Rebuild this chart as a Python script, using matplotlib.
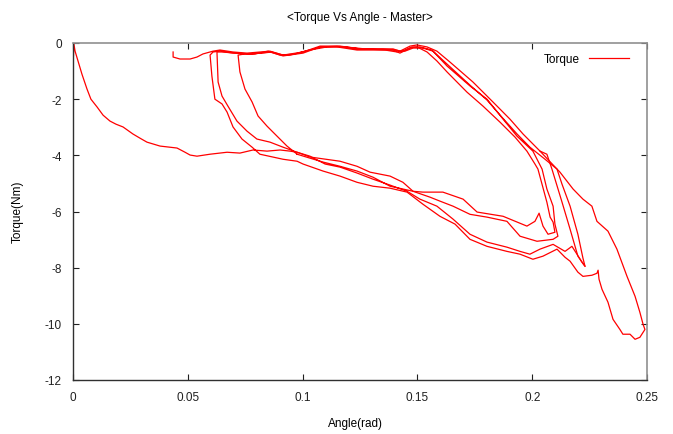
import matplotlib
matplotlib.use("Agg")
import matplotlib.pyplot as plt

plt.rcParams['font.family'] = ['Liberation Sans', 'DejaVu Sans']
plt.rcParams['axes.unicode_minus'] = False

# --- data (angle in rad, torque in Nm) ---
# first pass: initial ramp from zero, along the lower band, back up and over the top
ramp_angle = [0.0002, 0.0004, 0.0009, 0.0022, 0.0039, 0.0061, 0.0078, 0.0105, 0.0131, 0.0161,
              0.0187, 0.0218, 0.0261, 0.0292, 0.0322, 0.0379, 0.0422, 0.0453, 0.0488, 0.0510,
              0.0540, 0.0597, 0.0671, 0.0727, 0.0784, 0.0845, 0.0902, 0.0945]
ramp_torque = [-0.46, -0.04, -0.29, -0.64, -1.11, -1.64, -2.00, -2.28, -2.57, -2.78,
               -2.89, -2.99, -3.24, -3.39, -3.53, -3.67, -3.71, -3.74, -3.89, -3.99,
               -4.03, -3.96, -3.89, -3.92, -3.81, -3.85, -3.81, -3.85]

low1_angle = [0.0976, 0.1032, 0.1163, 0.1237, 0.1294, 0.1381, 0.1437, 0.1481, 0.1524, 0.1611,
              0.1699, 0.1760, 0.1873, 0.1977, 0.2012, 0.2030, 0.2047, 0.2069, 0.2099]
low1_torque = [-3.89, -4.06, -4.21, -4.39, -4.60, -4.74, -4.96, -5.28, -5.31, -5.31,
               -5.56, -6.02, -6.17, -6.52, -6.35, -6.06, -6.52, -6.81, -6.74]

up1_angle = [0.2091, 0.2078, 0.2064, 0.2043, 0.2025, 0.2012, 0.1977, 0.1925, 0.1860, 0.1786,
             0.1716, 0.1629, 0.1585, 0.1542]
up1_torque = [-6.38, -6.20, -5.67, -5.03, -4.49, -4.31, -3.85, -3.35, -2.82, -2.25,
              -1.75, -1.03, -0.64, -0.32]

top1_angle = [0.1498, 0.1468, 0.1424, 0.1394, 0.1337, 0.1237, 0.1150, 0.1076, 0.1002, 0.0915,
              0.0858, 0.0814, 0.0758, 0.0697, 0.0640, 0.0610]
top1_torque = [-0.14, -0.18, -0.36, -0.25, -0.25, -0.25, -0.14, -0.14, -0.36, -0.46,
               -0.32, -0.36, -0.39, -0.36, -0.29, -0.32]

drop1_angle = [0.0597, 0.0605, 0.0618, 0.0649, 0.0671, 0.0697, 0.0736, 0.0780, 0.0814, 0.0871,
               0.0915, 0.0976]
drop1_torque = [-0.43, -1.18, -2.00, -2.17, -2.46, -2.99, -3.42, -3.71, -3.96, -4.06,
                -4.14, -4.21]

low4_angle = [0.1002, 0.1089, 0.1163, 0.1237, 0.1307, 0.1381, 0.1455, 0.1524, 0.1598, 0.1664,
              0.1729, 0.1803, 0.1890, 0.1947, 0.2003, 0.2047, 0.2108, 0.2143, 0.2165, 0.2199,
              0.2221, 0.2260, 0.2282, 0.2287, 0.2291, 0.2304, 0.2330, 0.2352, 0.2382, 0.2395,
              0.2426, 0.2448, 0.2469, 0.2491]
low4_torque = [-4.31, -4.56, -4.74, -4.96, -5.10, -5.17, -5.31, -5.74, -6.17, -6.45,
               -6.99, -7.24, -7.42, -7.52, -7.70, -7.59, -7.34, -7.63, -7.77, -8.16,
               -8.31, -8.27, -8.20, -8.09, -8.41, -8.77, -9.23, -9.84, -10.20, -10.37,
               -10.37, -10.55, -10.48, -10.20]

far_angle = [0.2483, 0.2469, 0.2448, 0.2413, 0.2369, 0.2330, 0.2282, 0.2260, 0.2221, 0.2178,
             0.2121, 0.2034, 0.1960, 0.1903, 0.1829, 0.1742, 0.1642, 0.1585]
far_torque = [-10.02, -9.59, -9.02, -8.31, -7.34, -6.70, -6.35, -5.81, -5.56, -5.20,
              -4.60, -3.85, -3.24, -2.71, -2.10, -1.39, -0.68, -0.29]

top_end_angle = [0.1542, 0.1498, 0.1468, 0.1424, 0.1394, 0.1337, 0.1237, 0.1150, 0.1076, 0.1002,
                 0.0915, 0.0858, 0.0814, 0.0758, 0.0697, 0.0640, 0.0610, 0.0566, 0.0540, 0.0510,
                 0.0466, 0.0436, 0.0436]
top_end_torque = [-0.14, -0.07, -0.11, -0.29, -0.21, -0.21, -0.21, -0.11, -0.11, -0.32,
                  -0.43, -0.29, -0.32, -0.36, -0.32, -0.25, -0.29, -0.39, -0.50, -0.57,
                  -0.57, -0.50, -0.32]

# second loop
low2_angle = [0.0976, 0.1032, 0.1089, 0.1163, 0.1237, 0.1307, 0.1381, 0.1437, 0.1481, 0.1555,
              0.1598, 0.1655, 0.1729, 0.1803, 0.1890, 0.1947, 0.2021, 0.2091, 0.2112]
low2_torque = [-3.96, -4.10, -4.24, -4.39, -4.56, -4.78, -5.10, -5.20, -5.28, -5.49,
               -5.63, -5.81, -6.10, -6.20, -6.35, -6.88, -7.06, -6.99, -6.88]

up2_angle = [0.2099, 0.2091, 0.2064, 0.2043, 0.2003, 0.1934, 0.1873, 0.1803, 0.1729, 0.1629,
             0.1568]
up2_torque = [-6.45, -5.81, -5.20, -4.49, -3.85, -3.32, -2.71, -2.00, -1.53, -0.82,
              -0.29]

top2_angle = [0.1524, 0.1481, 0.1446, 0.1411, 0.1359, 0.1272, 0.1185, 0.1106, 0.1032, 0.0967,
              0.0915, 0.0867, 0.0823, 0.0771, 0.0706, 0.0649, 0.0627]
top2_torque = [-0.18, -0.18, -0.29, -0.32, -0.25, -0.21, -0.14, -0.14, -0.25, -0.39,
               -0.43, -0.32, -0.36, -0.39, -0.36, -0.32, -0.32]

drop2_angle = [0.0632, 0.0649, 0.0675, 0.0714, 0.0758, 0.0801, 0.0858, 0.0915, 0.0976]
drop2_torque = [-1.39, -1.89, -2.25, -2.78, -3.14, -3.42, -3.53, -3.71, -3.89]

low3_angle = [0.1032, 0.1098, 0.1163, 0.1237, 0.1307, 0.1381, 0.1455, 0.1511, 0.1585, 0.1655,
              0.1729, 0.1803, 0.1890, 0.1947, 0.1990, 0.2034, 0.2091, 0.2143, 0.2173, 0.2195,
              0.2217, 0.2230]
low3_torque = [-4.03, -4.31, -4.42, -4.63, -4.85, -5.06, -5.28, -5.56, -5.81, -6.27,
               -6.81, -7.09, -7.27, -7.42, -7.52, -7.34, -7.17, -7.42, -7.24, -7.52,
               -7.81, -7.95]

up3_angle = [0.2221, 0.2199, 0.2165, 0.2130, 0.2108, 0.2056, 0.1990, 0.1934, 0.1868, 0.1803,
             0.1729, 0.1633, 0.1563]
up3_torque = [-7.66, -6.81, -5.81, -5.03, -4.49, -4.14, -3.71, -3.24, -2.64, -2.03,
              -1.50, -0.78, -0.25]

top3_angle = [0.1511, 0.1476, 0.1433, 0.1402, 0.1350, 0.1250, 0.1163, 0.1084, 0.1010, 0.0945,
              0.0902, 0.0850, 0.0793, 0.0749, 0.0719]
top3_torque = [-0.14, -0.14, -0.29, -0.25, -0.21, -0.21, -0.11, -0.14, -0.29, -0.43,
               -0.43, -0.29, -0.39, -0.39, -0.43]

drop3_angle = [0.0727, 0.0749, 0.0780, 0.0806, 0.0845, 0.0889, 0.0932, 0.0976]
drop3_torque = [-1.03, -1.64, -2.10, -2.60, -2.96, -3.32, -3.67, -3.96]

# short spur down to the narrow tip near 0.223
spur_angle = [0.2034, 0.2064, 0.2086, 0.2130, 0.2165, 0.2199, 0.2230]
spur_torque = [-3.85, -3.96, -4.49, -5.67, -6.63, -7.59, -7.95]

path1_angle = ramp_angle + low1_angle + up1_angle + top1_angle + drop1_angle + low4_angle + far_angle + top_end_angle
path1_torque = ramp_torque + low1_torque + up1_torque + top1_torque + drop1_torque + low4_torque + far_torque + top_end_torque
path2_angle = low2_angle + up2_angle + top2_angle + drop2_angle + low3_angle + up3_angle + top3_angle + drop3_angle
path2_torque = low2_torque + up2_torque + top2_torque + drop2_torque + low3_torque + up3_torque + top3_torque + drop3_torque

fig = plt.figure(figsize=(6.73, 4.35), dpi=100)
ax = fig.add_axes([73/673, 1 - 381/435, 574/673, 337/435])

red = '#ff0000'
ax.plot(path1_angle, path1_torque, color=red, lw=0.9, label='Torque')
ax.plot(path2_angle, path2_torque, color=red, lw=0.9)
ax.plot(spur_angle, spur_torque, color=red, lw=0.9)

ax.set_xlim(0, 0.25)
ax.set_ylim(-12, 0)
ax.set_xticks([0, 0.05, 0.1, 0.15, 0.2, 0.25])
ax.set_xticklabels(['0', '0.05', '0.1', '0.15', '0.2', '0.25'])
ax.set_yticks([0, -2, -4, -6, -8, -10, -12])
ax.set_yticklabels(['0', '-2', '-4', '-6', '-8', '-10', '-12'])
ax.tick_params(direction='in', top=True, right=True, length=4, width=0.8,
               labelsize=8.5, pad=8, colors='#202020')

for side in ['left', 'bottom']:
    ax.spines[side].set_color('#303030')
    ax.spines[side].set_linewidth(1.0)
for side in ['top', 'right']:
    ax.spines[side].set_color('#909090')
    ax.spines[side].set_linewidth(1.2)

fig.text(360/673, 1 - 18/435, '<Torque Vs Angle - Master>', ha='center', va='center', fontsize=8.5)
fig.text(355/673, 1 - 424/435, 'Angle(rad)', ha='center', va='center', fontsize=8.5)
fig.text(18/673, 1 - 212/435, 'Torque(Nm)', ha='center', va='center', rotation=90, fontsize=8.5)

ax.legend(loc='upper right', bbox_to_anchor=(0.977, 0.985), frameon=False, markerfirst=False,
          handlelength=3.4, handletextpad=0.8, fontsize=8.5, borderaxespad=0)

fig.savefig('out.png', dpi=100)
